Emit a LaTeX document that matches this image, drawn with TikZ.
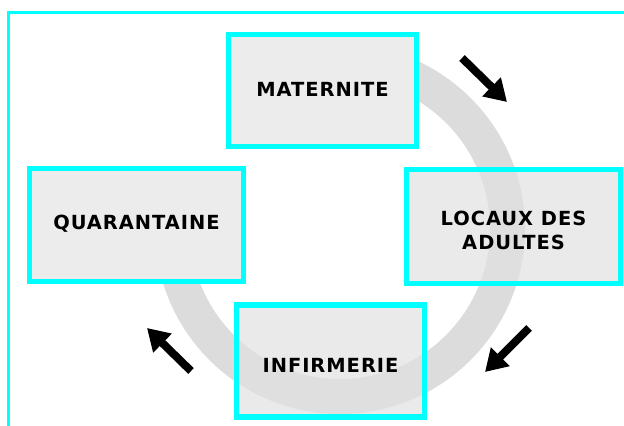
\documentclass[tikz,border=0pt]{standalone}
\usepackage{fontspec}
\setmainfont{DejaVu Sans}
\usetikzlibrary{arrows.meta}

\definecolor{frame}{HTML}{00FFFF}
\definecolor{ring}{HTML}{DCDCDC}
\definecolor{boxfill}{HTML}{ECECEC}

\begin{document}
\begin{tikzpicture}[x=0.03cm, y=-0.03cm,
	unit/.style={draw=frame, line width=4.3pt, fill=boxfill, minimum width=5.64cm, minimum height=3.36cm, inner sep=0pt},
	wideunit/.style={unit, minimum width=6.42cm, minimum height=3.4cm},
	seethrough/.style={fill=boxfill!90!gray, fill opacity=0.7},
	tag/.style={font=\bfseries\fontsize{16.6}{20.5}\selectfont\addfontfeature{LetterSpace=5}, align=center, inner sep=0pt},
	flow/.style={line width=6.8pt, -{Triangle[length=18.5pt, width=21.5pt]}}]
	
	\useasboundingbox (0,0) rectangle (624,426);
	
	% FRAME
	\draw[frame, line width=2.2pt] (8.5,426) -- (8.5,12.5) -- (624,12.5);
	
	% RING (from the top, clockwise, round to the left)
	\draw[ring, line width=29.9pt] (340,229) ++(-90:167.5) arc[start angle=-90, end angle=180, radius=167.5];
	
	% UNITS
	\node[unit] (maternite) at (322.5,90.5) {};
	\node[wideunit] (quarantaine) at (136.5,225) {};
	\node[wideunit, seethrough] (locaux) at (513.5,226.5) {};
	\node[unit, seethrough] (infirmerie) at (330.5,361) {};
	
	% NAMES
	\node[tag] (maternitetag) at ([yshift=1pt]maternite.center) {MATERNITE};
	\node[tag] (quarantainetag) at ([yshift=1pt]quarantaine.center) {QUARANTAINE};
	\node[tag] (locauxtag) at ([yshift=-3.4pt]locaux.center) {LOCAUX DES\\ADULTES};
	\node[tag] (infirmerietag) at ([yshift=-3.8pt]infirmerie.center) {INFIRMERIE};
	
	% ARROWS
	\coordinate (a1s) at (462,58);
	\coordinate (a1e) at (507,102);
	\coordinate (a2s) at (529,328);
	\coordinate (a2e) at (485,372);
	\coordinate (a3s) at (191,371);
	\coordinate (a3e) at (147,328);
	\draw[flow] (a1s) -- (a1e);
	\draw[flow] (a2s) -- (a2e);
	\draw[flow] (a3s) -- (a3e);
	
\end{tikzpicture}
\end{document}
